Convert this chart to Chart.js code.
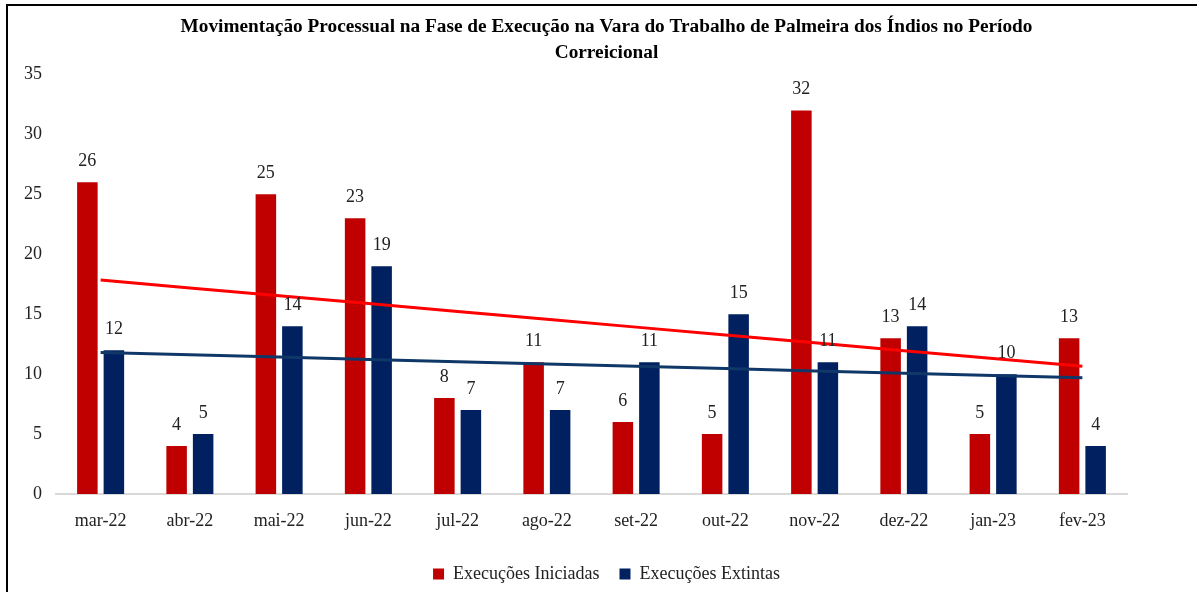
<!DOCTYPE html>
<html lang="pt-BR">
<head>
<meta charset="utf-8">
<title>Movimentação Processual - Fase de Execução</title>
<script src="https://cdn.jsdelivr.net/npm/chart.js@4/dist/chart.umd.min.js"></script>
<style>
    html, body { margin: 0; padding: 0; background: #fff; overflow: hidden; }
    #moldura {
        position: absolute;
        left: 6px;
        top: 4px;
        width: 1300px;
        height: 700px;
        border: 2px solid #000;
    }
    #grafico-wrap {
        position: absolute;
        left: 0;
        top: 0;
        width: 1197px;
        height: 593px;
    }
</style>
</head>
<body>
<div id="moldura"></div>
<div id="grafico-wrap"><canvas id="grafico"></canvas></div>
<script>
// meses do período correicional
const meses = ['mar-22', 'abr-22', 'mai-22', 'jun-22', 'jul-22', 'ago-22',
               'set-22', 'out-22', 'nov-22', 'dez-22', 'jan-23', 'fev-23'];

// execuções por mês
const iniciadas = [26, 4, 25, 23, 8, 11, 6, 5, 32, 13, 5, 13];
const extintas  = [12, 5, 14, 19, 7, 7, 11, 15, 11, 14, 10, 4];

const fonte = 'Liberation Serif, Times New Roman, serif';

// linha de tendência (mínimos quadrados)
function tendencia(valores) {
    const n = valores.length;
    const mx = (n + 1) / 2;
    const my = valores.reduce((a, b) => a + b, 0) / n;
    let sxy = 0, sxx = 0;
    valores.forEach((v, i) => {
        sxy += (i + 1 - mx) * (v - my);
        sxx += (i + 1 - mx) * (i + 1 - mx);
    });
    const b = sxy / sxx;
    return valores.map((v, i) => my + b * (i + 1 - mx));
}

// rótulos de valor acima das barras
const rotulosBarras = {
    id: 'rotulosBarras',
    afterDatasetsDraw(chart) {
        const ctx = chart.ctx;
        ctx.save();
        ctx.font = '18px ' + fonte;
        ctx.fillStyle = '#222';
        ctx.textAlign = 'center';
        ctx.textBaseline = 'alphabetic';
        chart.data.datasets.forEach((ds, di) => {
            if (ds.type !== 'bar') return;
            chart.getDatasetMeta(di).data.forEach((bar, i) => {
                ctx.fillText(String(ds.data[i]), bar.x, bar.y - 16);
            });
        });
        ctx.restore();
    }
};

const ctx = document.getElementById('grafico').getContext('2d');

new Chart(ctx, {
    data: {
        labels: meses,
        datasets: [
            {
                type: 'bar',
                label: 'Execuções Iniciadas',
                data: iniciadas,
                backgroundColor: '#C00000',
                categoryPercentage: 0.594,
                barPercentage: 0.774,
                order: 2
            },
            {
                type: 'bar',
                label: 'Execuções Extintas',
                data: extintas,
                backgroundColor: '#002060',
                categoryPercentage: 0.594,
                barPercentage: 0.774,
                order: 2
            },
            {
                type: 'line',
                label: 'Tendência Iniciadas',
                data: tendencia(iniciadas),
                borderColor: '#FF0000',
                borderWidth: 3,
                pointRadius: 0,
                fill: false,
                order: 1
            },
            {
                type: 'line',
                label: 'Tendência Extintas',
                data: tendencia(extintas),
                borderColor: '#0F3868',
                borderWidth: 3,
                pointRadius: 0,
                fill: false,
                order: 1
            }
        ]
    },
    options: {
        responsive: true,
        maintainAspectRatio: false,
        animation: false,
        layout: {
            padding: { top: 5, left: 16, right: 0, bottom: 0 }
        },
        plugins: {
            title: {
                display: true,
                text: ['Movimentação Processual na Fase de Execução na Vara do Trabalho de Palmeira dos Índios no Período',
                       'Correicional'],
                color: '#000',
                font: { family: fonte, size: 19.3, weight: 'bold', lineHeight: 1.36 },
                padding: { top: 9, bottom: 8 }
            },
            legend: {
                position: 'bottom',
                labels: {
                    filter: item => item.text.indexOf('Tendência') !== 0,
                    color: '#222',
                    font: { family: fonte, size: 18 },
                    boxWidth: 11,
                    boxHeight: 11,
                    padding: 20
                }
            },
            tooltip: { enabled: false }
        },
        scales: {
            x: {
                grid: { display: false },
                border: { display: true, color: '#D9D9D9', width: 2 },
                ticks: {
                    color: '#222',
                    font: { family: fonte, size: 18 },
                    padding: 8,
                    maxRotation: 0
                },
                afterFit: s => { s.height = 51; }
            },
            y: {
                min: 0,
                max: 35,
                grid: { display: false, drawTicks: false },
                border: { display: false },
                ticks: {
                    stepSize: 5,
                    color: '#222',
                    font: { family: fonte, size: 18 },
                    padding: 14
                },
                afterFit: s => { s.width = 40; }
            },
            ydir: {
                position: 'right',
                display: true,
                grid: { display: false, drawTicks: false },
                border: { display: false },
                ticks: { display: false },
                afterFit: s => { s.width = 70; }
            }
        }
    },
    plugins: [rotulosBarras]
});
</script>
</body>
</html>
